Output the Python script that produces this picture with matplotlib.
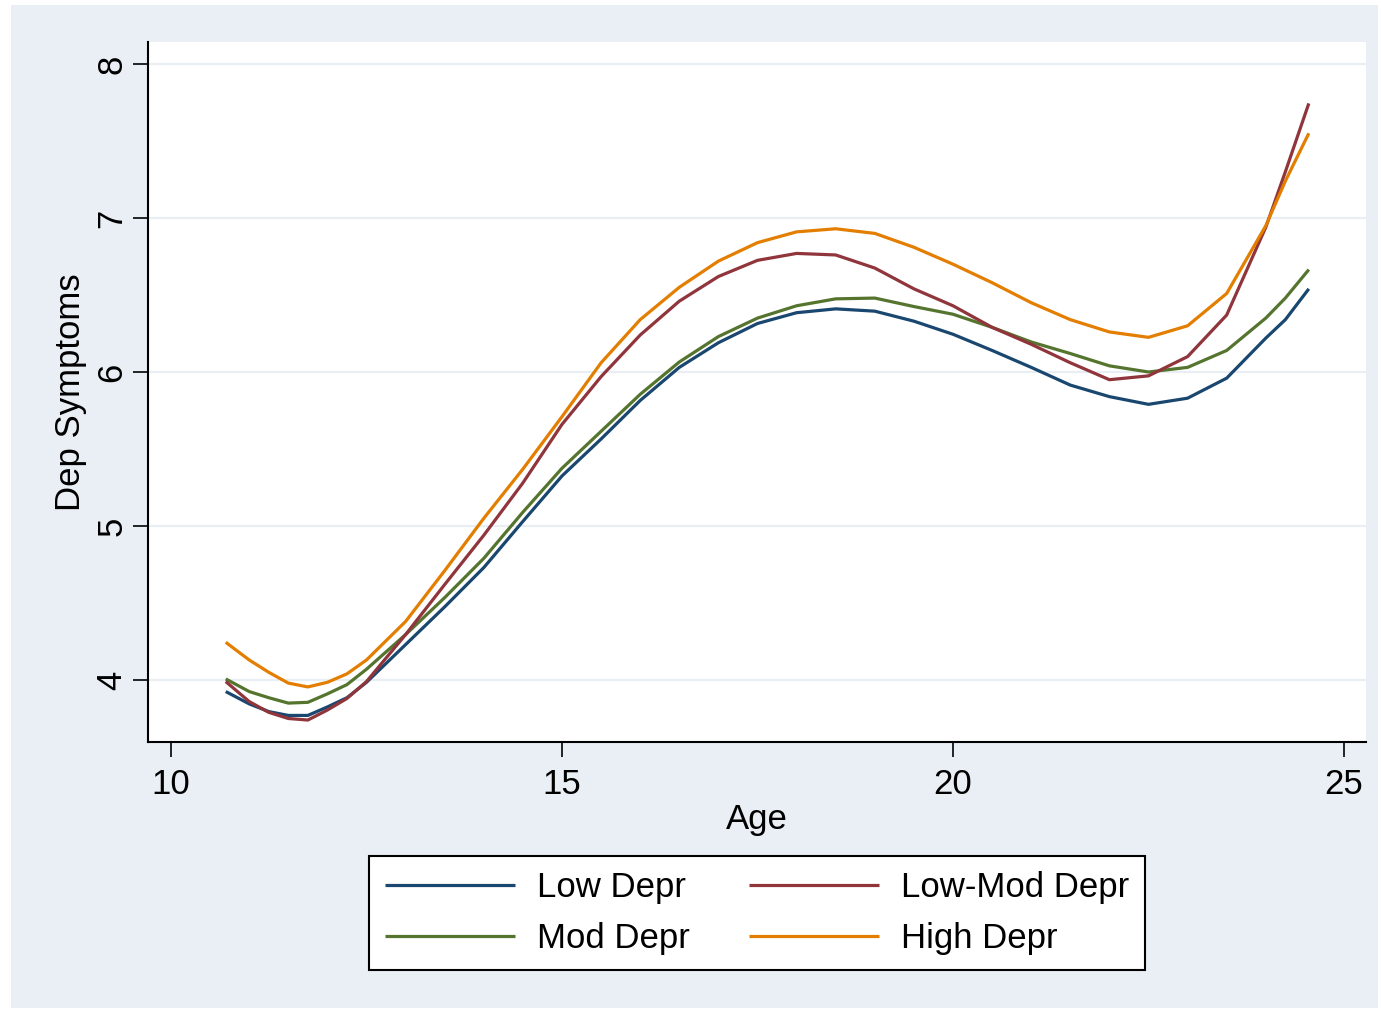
import matplotlib
matplotlib.use('Agg')
import matplotlib.pyplot as plt
from matplotlib.patches import Rectangle

plt.rcParams['font.family'] = ['Liberation Sans', 'DejaVu Sans']

# Fitted trajectories (age vs depressive symptoms)
age = [10.7, 11.0, 11.25, 11.5, 11.75, 12.0, 12.25, 12.5, 13.0, 13.5, 14.0, 14.5,
       15.0, 15.5, 16.0, 16.5, 17.0, 17.5, 18.0, 18.5, 19.0, 19.5, 20.0, 20.5,
       21.0, 21.5, 22.0, 22.5, 23.0, 23.5, 24.0, 24.25, 24.55]

low_depr = [3.925, 3.845, 3.795, 3.77, 3.77, 3.825, 3.885, 3.985, 4.23, 4.475, 4.73, 5.03,
            5.325, 5.565, 5.815, 6.03, 6.19, 6.315, 6.385, 6.41, 6.395, 6.33, 6.245, 6.14,
            6.03, 5.915, 5.84, 5.79, 5.83, 5.96, 6.22, 6.34, 6.54]

low_mod_depr = [3.99, 3.86, 3.79, 3.75, 3.74, 3.805, 3.88, 3.99, 4.295, 4.62, 4.94, 5.28,
                5.66, 5.97, 6.24, 6.46, 6.62, 6.725, 6.77, 6.76, 6.675, 6.54, 6.43, 6.29,
                6.18, 6.06, 5.95, 5.975, 6.10, 6.37, 6.94, 7.30, 7.744]

mod_depr = [4.007, 3.925, 3.885, 3.85, 3.855, 3.91, 3.97, 4.07, 4.295, 4.535, 4.79, 5.09,
            5.375, 5.615, 5.855, 6.065, 6.23, 6.35, 6.43, 6.475, 6.48, 6.425, 6.375, 6.29,
            6.195, 6.12, 6.04, 6.00, 6.03, 6.14, 6.35, 6.48, 6.665]

high_depr = [4.245, 4.13, 4.05, 3.98, 3.955, 3.985, 4.04, 4.13, 4.38, 4.71, 5.05, 5.37,
             5.71, 6.06, 6.34, 6.55, 6.72, 6.84, 6.91, 6.93, 6.90, 6.81, 6.70, 6.58,
             6.45, 6.34, 6.26, 6.225, 6.30, 6.51, 6.95, 7.24, 7.55]

W, H = 1381, 1010
bg = '#eaeff5'

fig = plt.figure(figsize=(W / 100, H / 100), dpi=100, facecolor='white')
fig.patches.append(Rectangle((11 / W, 1 - 1008 / H), (1378 - 11) / W, (1008 - 5) / H,
                             transform=fig.transFigure, facecolor=bg, edgecolor='none', zorder=-1))

ax = fig.add_axes([148 / W, 1 - 742 / H, 1218 / W, 700 / H])
ax.set_facecolor('white')

kw = dict(lw=2.3, solid_joinstyle='round', solid_capstyle='butt')
ax.plot(age, low_depr, color='#1a476f', label='Low Depr', **kw)
ax.plot(age, mod_depr, color='#55752f', label='Mod Depr', **kw)
ax.plot(age, low_mod_depr, color='#90353b', label='Low-Mod Depr', **kw)
ax.plot(age, high_depr, color='#e37e00', label='High Depr', **kw)

ax.set_xlim(10 - 23 / 78.2, 25 + 22 / 78.2)
ax.set_ylim(4 - 62 / 154, 8 + 22 / 154)
ax.set_xticks([10, 15, 20, 25])
ax.set_yticks([4, 5, 6, 7, 8])
ax.yaxis.grid(True, color='#e8eef4', lw=1.6)
ax.set_axisbelow(True)

for s in ['top', 'right']:
    ax.spines[s].set_visible(False)
for s in ['left', 'bottom']:
    ax.spines[s].set_linewidth(1.5)
    ax.spines[s].set_color('black')

ax.tick_params(axis='both', length=11, width=1.2, labelsize=25, direction='out')
ax.tick_params(axis='x', pad=8)
ax.tick_params(axis='y', pad=3, labelrotation=90)
for lab in ax.get_yticklabels():
    lab.set_va('center')

ax.set_xlabel('Age', fontsize=25, labelpad=1)
ax.set_ylabel('Dep Symptoms', fontsize=25, labelpad=6)

leg = fig.legend(loc='center', bbox_to_anchor=(757 / W, 1 - 913 / H), ncol=2,
                 fontsize=25, frameon=True, fancybox=False, edgecolor='black',
                 facecolor='white', framealpha=1,
                 handlelength=3.75, handletextpad=0.63, columnspacing=1.7,
                 labelspacing=0.5, borderpad=0.45, borderaxespad=0)
leg.get_frame().set_linewidth(1.5)
for line in leg.get_lines():
    line.set_linewidth(2.3)

fig.savefig('out.png', dpi=100, facecolor='white')
